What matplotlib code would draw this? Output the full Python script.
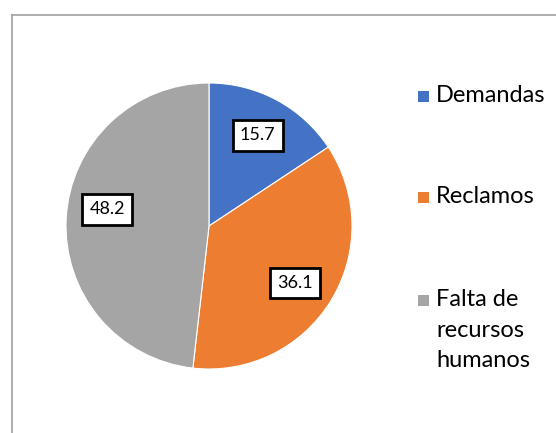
import numpy as np
import matplotlib.pyplot as plt
from matplotlib.lines import Line2D

# datos del grafico
categorias = ['Demandas', 'Reclamos', 'Falta de\nrecursos\nhumanos']
valores = [15.7, 36.1, 48.2]
colores = ['#4472C4', '#ED7D31', '#A5A5A5']

plt.rcParams['font.family'] = ['Lato', 'DejaVu Sans']

W, H = 556, 433
fig = plt.figure(figsize=(W / 100, H / 100), dpi=100)

# marco del area del grafico (solo se ven borde izquierdo y superior)
fig.add_artist(Line2D([11.5 / W, 11.5 / W], [0, 1 - 14.5 / H],
                      color='#A0A0A0', linewidth=1.2))
fig.add_artist(Line2D([11.5 / W, 1], [1 - 14.5 / H, 1 - 14.5 / H],
                      color='#A0A0A0', linewidth=1.2))

cx, cy, r = 209, 226, 143
ax = fig.add_axes([(cx - r) / W, (H - cy - r) / H, 2 * r / W, 2 * r / H])
wedges, _ = ax.pie(valores, colors=colores, startangle=90, counterclock=False,
                   radius=1, wedgeprops=dict(linewidth=0.8, edgecolor='white'))
ax.set_xlim(-1, 1)
ax.set_ylim(-1, 1)
ax.set_aspect('equal')
ax.axis('off')

# etiquetas de datos (pequeño ajuste de angulo como en el original)
ajuste_angulo = [0, -2, -6]
dist = 0.72
for w, v, da in zip(wedges, valores, ajuste_angulo):
    ang = np.deg2rad((w.theta1 + w.theta2) / 2 + da)
    ax.text(dist * np.cos(ang), dist * np.sin(ang), '%.1f' % v,
            ha='center', va='center', fontsize=13, color='#000000',
            bbox=dict(boxstyle='square,pad=0.4', facecolor='white',
                      edgecolor='black', linewidth=2))

# leyenda
ly = [96, 197, 300]
for cat, col, y in zip(categorias, colores, ly):
    fig.patches.append(plt.Rectangle((418 / W, 1 - (y + 6) / H), 11 / W, 11 / H,
                                     transform=fig.transFigure, facecolor=col,
                                     edgecolor='none'))
    fig.text(436 / W, 1 - (y - 11) / H, cat, ha='left', va='top',
             fontsize=17, color='#000000', linespacing=1.57)

fig.savefig('out.png', dpi=100)
